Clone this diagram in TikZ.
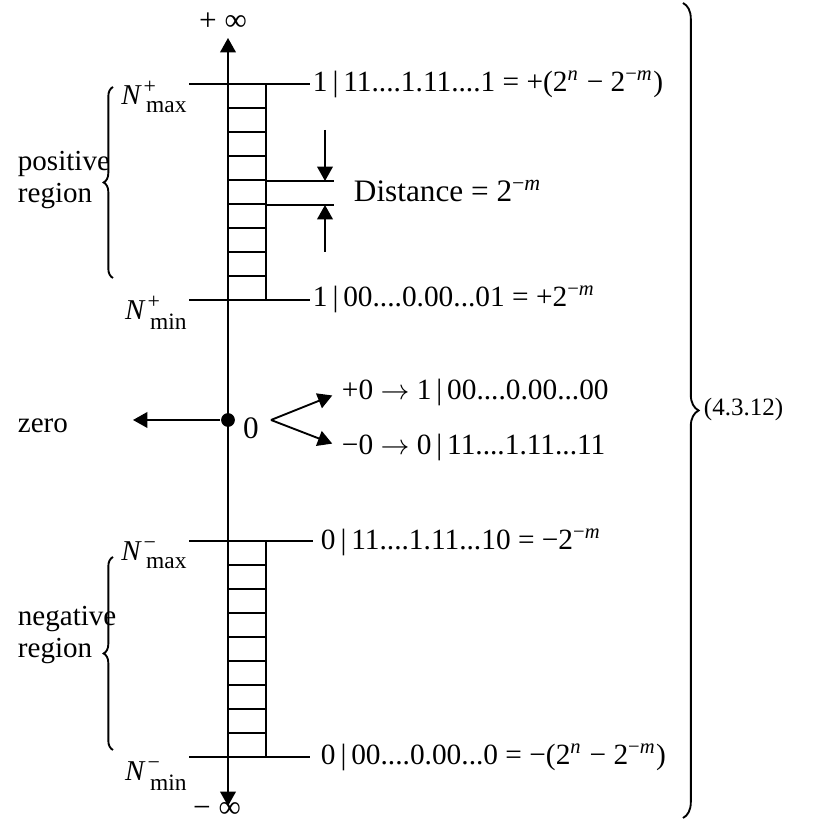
\documentclass[tikz,border=0pt]{standalone}
\usepackage{fontspec}
\setmainfont{Liberation Serif}
\usetikzlibrary{arrows.meta,decorations.pathreplacing,positioning}
\newcommand{\bnd}[2]{\mbox{\fontsize{9.2}{11}\selectfont\itshape N\/}$^{\kern0.6pt\mbox{\fontsize{7}{7}\selectfont #1}}_{\kern1.4pt\mbox{\fontsize{7.5}{8}\selectfont #2}}$}
\newcommand{\sx}[1]{\textsuperscript{#1}}
\newcommand{\sgnbar}{\,|\,}

\begin{document}
\begin{tikzpicture}[x=0.32pt,y=-0.32pt,
    line width=0.6pt,
    >={Triangle[length=4.6pt,width=5pt]},
    txt/.style={inner sep=0pt,font=\fontsize{10}{12}\selectfont},
    val/.style={inner sep=0pt,font=\fontsize{9.4}{11}\selectfont},
    side/.style={inner sep=0pt,align=left,font=\fontsize{9.3}{10.5}\selectfont},
    brc/.style={decorate,decoration={brace,amplitude=#1}}]
\useasboundingbox (0,0) rectangle (827,821);

% number axis
\coordinate (axtop) at (228,38);
\coordinate (axbot) at (228,806);
\draw[<->] (axbot) -- (axtop);
\node[txt] (pinf) at (223,22) {+ ∞};
\node[txt] (minf) at (217,810) {− ∞};

% positive ladder
\foreach \y in {84,108,...,300}
    \draw (228,\y) -- (266,\y);
\draw (266,84) -- (266,300);
\draw (189,84) -- (310,84);
\draw (189,300) -- (310,300);

% negative ladder
\foreach \y in {541,565,...,757}
    \draw (228,\y) -- (266,\y);
\draw (266,541) -- (266,757);
\draw (189,541) -- (313,541);
\draw (189,757) -- (310,757);

% bounds
\node[txt,anchor=base east] (pmax) at (189,105) {\bnd{+}{max}};
\node[txt,anchor=base east] (pmin) at (189,320) {\bnd{+}{min}};
\node[txt,anchor=base east] (nmax) at (189,561) {\bnd{−}{max}};
\node[txt,anchor=base east] (nmin) at (189,781) {\bnd{−}{min}};

\node[val,anchor=base west] (pmaxval) at (312,92) {1\sgnbar 11....1.11....1 = +(2\sx{\textit{n}} − 2\sx{−\textit{m}})};
\node[val,anchor=base west] (pminval) at (312,307) {1\sgnbar 00....0.00...01 = +2\sx{−\textit{m}}};
\node[val,anchor=base west] (nmaxval) at (320,550) {0\sgnbar 11....1.11...10 = −2\sx{−\textit{m}}};
\node[val,anchor=base west] (nminval) at (320,765) {0\sgnbar 00....0.00...0 = −(2\sx{\textit{n}} − 2\sx{−\textit{m}})};

% distance between two steps
\draw (266,181) -- (334,181);
\draw (266,205) -- (334,205);
\coordinate (dtop) at (325,130);
\coordinate (dbot) at (325,252);
\draw[->] (dtop) -- (325,181);
\draw[->] (dbot) -- (325,205);
\node[txt,anchor=base west] (dist) at (353,202) {Distance = 2\sx{−\textit{m}}};

% zero
\node[circle,fill,inner sep=0pt,minimum size=4.4pt] (zdot) at (228,420) {};
\coordinate (zend) at (133,420);
\draw[->] (zdot) -- (zend);
\node[side,anchor=base west] (zero) at (17,433) {zero};
\node[txt] (znum) at (251,428) {0};
\coordinate (zfork) at (271,420);
\node[val,anchor=west] (zpos) at (341,392) {+0 $\rightarrow$ 1\sgnbar 00....0.00...00};
\node[val,anchor=west] (zneg) at (341,447) {−0 $\rightarrow$ 0\sgnbar 11....1.11...11};
\draw[->,shorten >=3pt] (zfork) -- (zpos.west);
\draw[->,shorten >=3pt] (zfork) -- (zneg.west);

% regions
\draw[brc=3pt] (113,278) -- (113,87);
\node[side,anchor=base west] (preg) at (17,203) {positive\\region};
\draw[brc=3pt] (113,750) -- (113,557);
\node[side,anchor=base west] (nreg) at (17,658) {negative\\region};

% whole set
\draw[brc=5pt] (683,3) -- (683,818);
\node[txt,anchor=west,font=\fontsize{8}{10}\selectfont] (eqno) at (703,410) {(4.3.12)};
\end{tikzpicture}
\end{document}
